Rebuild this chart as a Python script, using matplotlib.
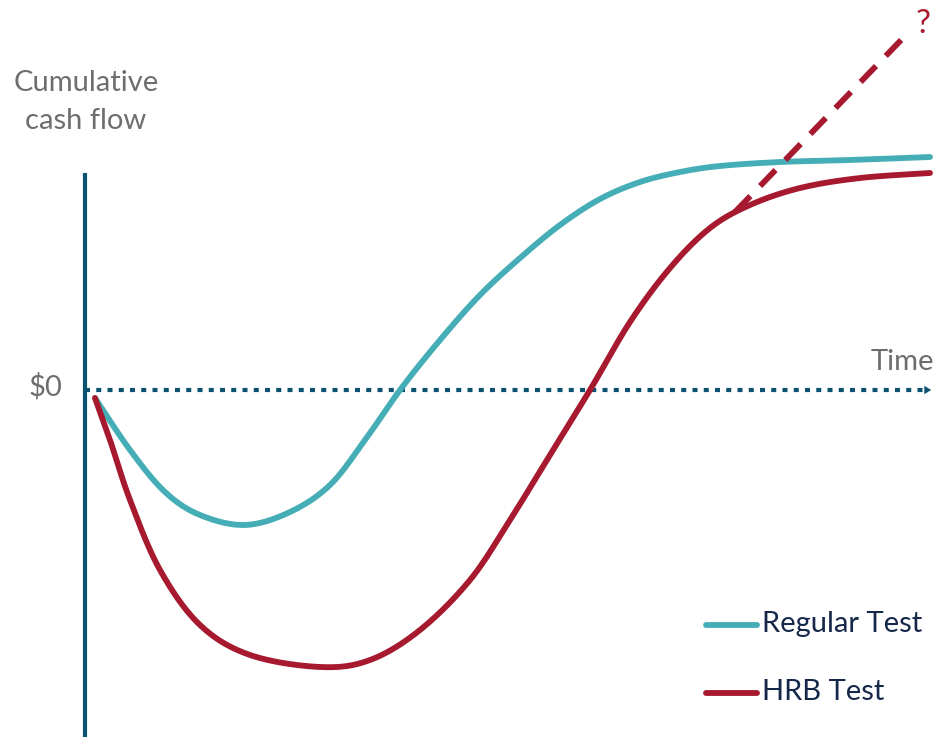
import numpy as np
import matplotlib.pyplot as plt

# ── Data (time units ~ horizontal position, cash = height above $0) ──────────
regular_t = [95, 130, 165, 200, 245, 290, 330, 365, 400, 440, 480, 520, 560,
             600, 640, 680, 720, 780, 850, 930]
regular_cash = [-8, -60, -102, -125, -135, -122, -95, -50, 0, 50, 95, 132,
                165, 191, 208, 218, 224, 228, 230, 233]

hrb_t = [95, 110, 130, 160, 200, 250, 320, 370, 420, 470, 510, 550, 590,
         630, 670, 710, 750, 800, 860, 930]
hrb_cash = [-8, -50, -110, -180, -235, -265, -277, -270, -240, -190, -130,
            -65, 0, 68, 122, 162, 185, 202, 212, 217]

hrb_upside_t = [735, 905]
hrb_upside_cash = [178, 354]

legend_labels = ["Regular Test", "HRB Test"]

TEAL = "#45adb6"
RED = "#a6192e"
AXIS = "#0b5271"
GREY = "#6e6e6e"
NAVY = "#16284a"

fig = plt.figure(figsize=(9.34, 7.37), dpi=100)
ax = fig.add_axes([0, 0, 1, 1])
ax.set_xlim(0, 934)
ax.set_ylim(-347, 390)
ax.axis("off")

FONT = ["Lato", "DejaVu Sans"]


def smooth(xs, ys):
    # Catmull-Rom through the points
    xs, ys = np.asarray(xs, float), np.asarray(ys, float)
    px = np.concatenate([[xs[0]], xs, [xs[-1]]])
    py = np.concatenate([[ys[0]], ys, [ys[-1]]])
    ox, oy = [], []
    for i in range(1, len(px) - 2):
        t = np.linspace(0, 1, 30, endpoint=False)
        for arr, out in ((px, ox), (py, oy)):
            p0, p1, p2, p3 = arr[i - 1], arr[i], arr[i + 1], arr[i + 2]
            out.extend(0.5 * ((2 * p1) + (-p0 + p2) * t
                              + (2 * p0 - 5 * p1 + 4 * p2 - p3) * t ** 2
                              + (-p0 + 3 * p1 - 3 * p2 + p3) * t ** 3))
    ox.append(xs[-1]); oy.append(ys[-1])
    return np.array(ox), np.array(oy)


# axes
ax.plot([85, 85], [217, -347], color=AXIS, lw=3, solid_capstyle="butt")
ax.plot([85, 925], [0, 0], color=AXIS, lw=3, linestyle=(0, (1.2, 1.5)),
        dash_capstyle="butt")
ax.annotate("", xy=(934, 0), xytext=(922, 0),
            arrowprops=dict(arrowstyle="-|>,head_length=0.5,head_width=0.3",
                            color=AXIS, lw=0))

# curves
x, y = smooth(regular_t, regular_cash)
ax.plot(x, y, color=TEAL, lw=4.2, solid_capstyle="round")
x, y = smooth(hrb_t, hrb_cash)
ax.plot(x, y, color=RED, lw=4.2, solid_capstyle="round")
ax.plot(hrb_upside_t, hrb_upside_cash, color=RED, lw=4.2,
        linestyle=(0, (3.8, 2.4)), dash_capstyle="butt")

# texts
ax.text(923, 366, "?", color=RED, fontsize=24, ha="center", va="center",
        family=FONT)
ax.text(86, 307, "Cumulative", color=GREY, fontsize=21, ha="center",
        va="center", family=FONT)
ax.text(86, 269, "cash flow", color=GREY, fontsize=21, ha="center",
        va="center", family=FONT)
ax.text(62, 3, "$0", color=GREY, fontsize=21, ha="right", va="center",
        family=FONT)
ax.text(934, 28, "Time", color=GREY, fontsize=21, ha="right", va="center",
        family=FONT)

# legend
for i, (lab, col) in enumerate(zip(legend_labels, [TEAL, RED])):
    yy = -235 - 68 * i
    ax.plot([706, 757], [yy, yy], color=col, lw=4.2, solid_capstyle="round")
    ax.text(762, yy + 1, lab, color=NAVY, fontsize=21, ha="left",
            va="center", family=FONT)

fig.savefig("out.png", dpi=100)
